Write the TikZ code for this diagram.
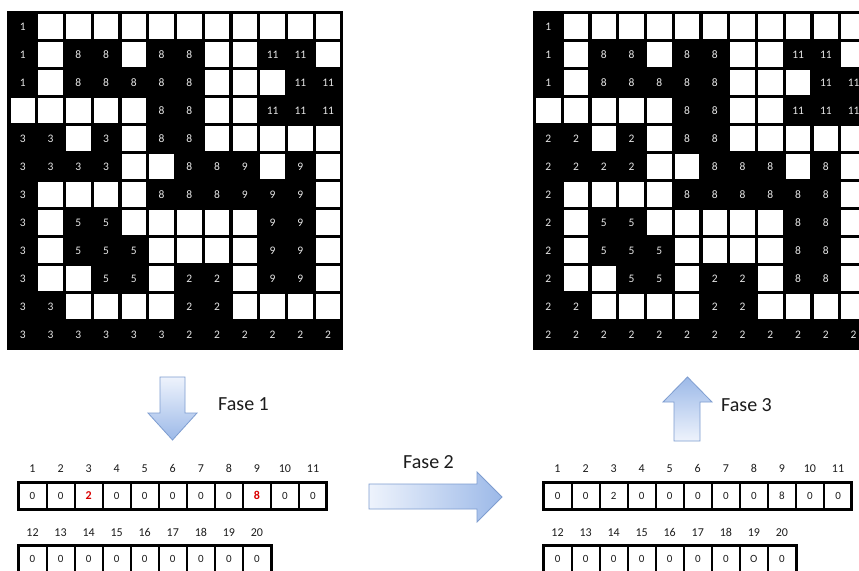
\documentclass[tikz,border=0pt]{standalone}
\usepackage{fontspec}
\setmainfont{Carlito}
\usepackage{ifthen}
\definecolor{arrlight}{HTML}{EEF3FC}
\definecolor{arrblue}{HTML}{9CB9E8}
\definecolor{arredge}{HTML}{7E9DD0}
\definecolor{numwhite}{HTML}{E6E6E6}
\definecolor{txt}{HTML}{1C1C1C}
\newcommand\mygrid[3]{%
  \fill[black] (#2,11) rectangle ++(336,339);
  \foreach \rw [count=\r from 0] in {#3} {
    \foreach \v [count=\c from 0] in \rw {
      \ifthenelse{\equal{\v}{w}}{%
        \node[wcell] (#1-\r-\c) at (#2+15.85+\c*27.75, 26.5+\r*28) {};
      }{%
        \node[ncell] (#1-\r-\c) at (#2+15.85+\c*27.75, 26.5+\r*28) {\v};
      }
    }
  }
}
\begin{document}
\begin{tikzpicture}[x=1pt,y=-1pt,
  wcell/.style={fill=white, minimum width=24.7pt, minimum height=25pt, inner sep=0pt, draw=none},
  ncell/.style={text=numwhite, font=\fontsize{11.5}{13}\selectfont, inner sep=0pt, text height=7.5pt, text depth=0pt},
  acell/.style={draw=black, line width=2pt, minimum width=28.1pt, minimum height=27pt, inner sep=0pt, font=\fontsize{11}{13}\selectfont, text=txt, text height=7.5pt, text depth=0pt},
  idxlab/.style={font=\fontsize{12}{14}\selectfont, text=txt, inner sep=0pt, text height=8pt, text depth=0pt},
  red/.style={text=red!85!black, font=\bfseries\fontsize{12}{13}\selectfont},
  faselab/.style={font=\fontsize{20}{24}\selectfont, text=txt, anchor=west, inner sep=0pt},
  arrowshape/.style={draw=arredge, line width=0.8pt}
]
\useasboundingbox (0,0) rectangle (859,570);
\clip (0,0) rectangle (859,570);
\fill[white] (0,0) rectangle (859,570);

% grids
\mygrid{L}{7}{{1,w,w,w,w,w,w,w,w,w,w,w},
{1,w,8,8,w,8,8,w,w,11,11,w},
{1,w,8,8,8,8,8,w,w,w,11,11},
{w,w,w,w,w,8,8,w,w,11,11,11},
{3,3,w,3,w,8,8,w,w,w,w,w},
{3,3,3,3,w,w,8,8,9,w,9,w},
{3,w,w,w,w,8,8,8,9,9,9,w},
{3,w,5,5,w,w,w,w,w,9,9,w},
{3,w,5,5,5,w,w,w,w,9,9,w},
{3,w,w,5,5,w,2,2,w,9,9,w},
{3,3,w,w,w,w,2,2,w,w,w,w},
{3,3,3,3,3,3,2,2,2,2,2,2}}
\mygrid{R}{532.5}{{1,w,w,w,w,w,w,w,w,w,w,w},
{1,w,8,8,w,8,8,w,w,11,11,w},
{1,w,8,8,8,8,8,w,w,w,11,11},
{w,w,w,w,w,8,8,w,w,11,11,11},
{2,2,w,2,w,8,8,w,w,w,w,w},
{2,2,2,2,w,w,8,8,8,w,8,w},
{2,w,w,w,w,8,8,8,8,8,8,w},
{2,w,5,5,w,w,w,w,w,8,8,w},
{2,w,5,5,5,w,w,w,w,8,8,w},
{2,w,w,5,5,w,2,2,w,8,8,w},
{2,2,w,w,w,w,2,2,w,w,w,w},
{2,2,2,2,2,2,2,2,2,2,2,2}}

% arrows
\shade[arrowshape, top color=arrlight, bottom color=arrblue]
  (160,377) -- (185,377) -- (185,413) -- (197,413) -- (172.5,440) -- (148,413) -- (160,413) -- cycle;
\shade[arrowshape, left color=arrlight, right color=arrblue]
  (369,484) -- (477,484) -- (477,472) -- (502,497) -- (477,522) -- (477,509) -- (369,509) -- cycle;
\shade[arrowshape, top color=arrblue, bottom color=arrlight]
  (674,441) -- (700,441) -- (700,402) -- (712,402) -- (687.5,377) -- (663,402) -- (674,402) -- cycle;

\node[faselab] (f1) at (218,404) {Fase 1};
\node[faselab] (f2) at (403,462) {Fase 2};
\node[faselab] (f3) at (721,405) {Fase 3};

% left arrays
\foreach \v [count=\i from 1] in {0,0,2,0,0,0,0,0,8,0,0} {
  \node[idxlab] (LA-l\i) at (18.5+\i*28.05-14.02, 468) {\i};
  \ifthenelse{\i=3 \OR \i=9}{%
    \node[acell, red] (LA-\i) at (18.5+\i*28.05-14.02, 495.5) {\v};
  }{%
    \node[acell] (LA-\i) at (18.5+\i*28.05-14.02, 495.5) {\v};
  }
}
\draw[line width=3pt] (18.5,482) rectangle (326.5,509);
\foreach \v [count=\i from 1] in {0,0,0,0,0,0,0,0,0} {
  \pgfmathtruncatemacro\lab{\i+11}
  \node[idxlab] (LB-l\i) at (18.5+\i*28.05-14.02, 532) {\lab};
  \node[acell] (LB-\i) at (18.5+\i*28.05-14.02, 558.5) {\v};
}
\draw[line width=3pt] (18.5,545) rectangle (271.5,580);

% right arrays
\foreach \v [count=\i from 1] in {0,0,2,0,0,0,0,0,8,0,0} {
  \node[idxlab] (RA-l\i) at (543.5+\i*28.05-14.02, 468) {\i};
  \node[acell] (RA-\i) at (543.5+\i*28.05-14.02, 495.5) {\v};
}
\draw[line width=3pt] (543.5,482) rectangle (851.5,509);
\foreach \v [count=\i from 1] in {0,0,0,0,0,0,0,O,0} {
  \pgfmathtruncatemacro\lab{\i+11}
  \node[idxlab] (RB-l\i) at (543.5+\i*28.05-14.02, 532) {\lab};
  \node[acell] (RB-\i) at (543.5+\i*28.05-14.02, 558.5) {\v};
}
\draw[line width=3pt] (543.5,545) rectangle (796.5,580);
\end{tikzpicture}
\end{document}
